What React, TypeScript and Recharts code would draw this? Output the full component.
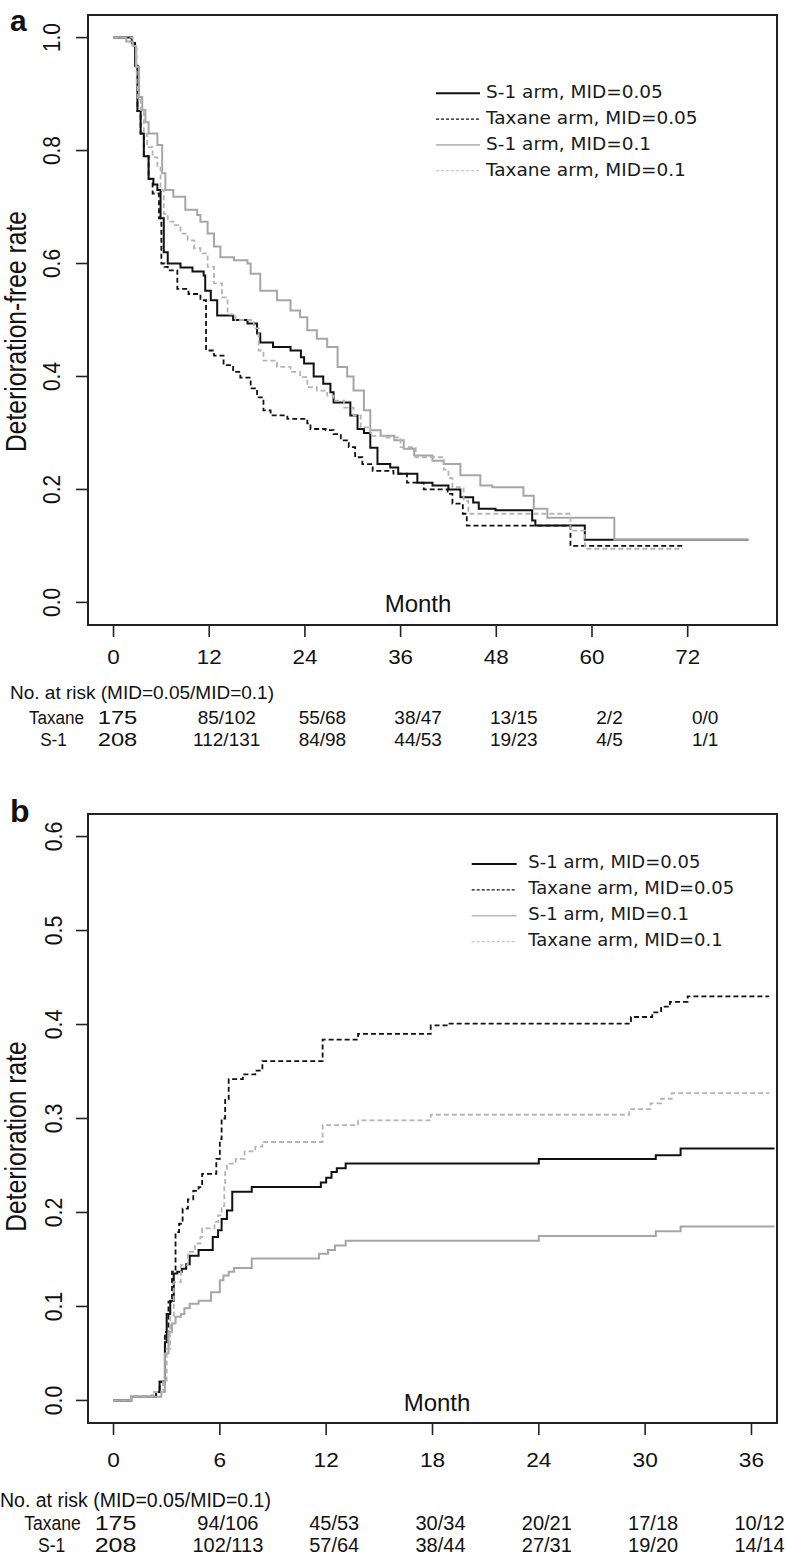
import React from 'react';
import { LineChart, Line, XAxis, YAxis, ReferenceArea, Legend, Customized } from 'recharts';

// ---------- shared ----------
const SANS = '"Liberation Sans", Arial, Helvetica, sans-serif';
const LEGEND_FONT = '"DejaVu Sans", Verdana, sans-serif';
const seriesNames = ['S-1 arm, MID=0.05', 'Taxane arm, MID=0.05', 'S-1 arm, MID=0.1', 'Taxane arm, MID=0.1'];
const riskHeader = 'No. at risk (MID=0.05/MID=0.1)';
const riskRowNames = ['Taxane', 'S-1'];

// ---------- panel a : deterioration-free rate ----------
const aTicksX = [0, 12, 24, 36, 48, 60, 72];
const aTicksY = [0, 0.2, 0.4, 0.6, 0.8, 1.0];
const aRiskTaxane = ['175', '85/102', '55/68', '38/47', '13/15', '2/2', '0/0'];
const aRiskS1 = ['208', '112/131', '84/98', '44/53', '19/23', '4/5', '1/1'];

const aS1_005 = [
  [0, 1.0], [2.3, 0.99], [2.7, 0.95], [3.0, 0.87], [3.4, 0.83], [3.8, 0.79], [4.4, 0.75], [5.0, 0.74],
  [5.5, 0.73], [5.9, 0.68], [6.3, 0.62], [6.8, 0.6], [8.4, 0.593], [9.9, 0.586], [11.3, 0.579], [11.5, 0.552],
  [12.2, 0.535], [13.0, 0.508], [15.0, 0.5], [16.8, 0.494], [18.0, 0.476], [18.4, 0.46], [20.0, 0.452],
  [22.2, 0.446], [23.5, 0.434], [23.9, 0.423], [25.1, 0.4], [26.3, 0.387], [27.2, 0.372], [27.6, 0.354],
  [29.7, 0.331], [30.6, 0.307], [31.4, 0.3], [32.2, 0.274], [33.1, 0.245], [34.7, 0.239], [35.7, 0.228],
  [38.1, 0.212], [40.0, 0.207], [42.0, 0.2], [43.5, 0.186], [45.1, 0.177], [45.8, 0.166], [47.9, 0.163],
  [52.5, 0.145], [52.9, 0.136], [59.1, 0.111], [79.6, 0.111],
];
const aTax_005 = [
  [0, 1.0], [2.3, 0.99], [2.7, 0.95], [3.0, 0.87], [3.4, 0.83], [3.8, 0.79], [4.4, 0.75], [4.9, 0.724],
  [5.7, 0.68], [6.0, 0.6], [6.4, 0.594], [6.8, 0.588], [8.0, 0.555], [9.4, 0.546], [10.9, 0.535], [11.6, 0.446],
  [12.6, 0.437], [13.8, 0.42], [15.0, 0.408], [15.9, 0.398], [17.2, 0.379], [18.0, 0.363], [18.8, 0.34],
  [19.7, 0.331], [21.8, 0.325], [24.3, 0.317], [24.7, 0.307], [26.6, 0.305], [27.6, 0.298], [28.5, 0.287],
  [29.5, 0.275], [30.3, 0.257], [31.2, 0.245], [32.5, 0.233], [35.1, 0.228], [36.8, 0.212], [38.9, 0.2],
  [41.9, 0.192], [42.5, 0.175], [43.8, 0.157], [44.3, 0.136], [57.3, 0.1], [71.5, 0.1],
];
const aS1_01 = [
  [0, 1.0], [1.6, 0.993], [2.4, 0.985], [2.8, 0.948], [3.2, 0.895], [3.6, 0.872], [4.0, 0.85], [4.4, 0.83],
  [5.5, 0.81], [6.1, 0.76], [6.5, 0.73], [7.5, 0.718], [9.0, 0.695], [10.5, 0.686], [10.9, 0.674], [11.8, 0.653],
  [12.6, 0.63], [13.4, 0.611], [15.1, 0.606], [16.8, 0.6], [17.2, 0.582], [18.4, 0.552], [20.5, 0.535],
  [22.2, 0.517], [23.4, 0.505], [24.3, 0.482], [25.5, 0.467], [26.8, 0.452], [28.1, 0.417], [29.3, 0.4],
  [30.1, 0.375], [31.4, 0.34], [32.2, 0.305], [33.5, 0.295], [35.2, 0.287], [36.4, 0.272], [37.7, 0.26],
  [40.0, 0.251], [41.4, 0.245], [43.5, 0.225], [46.0, 0.207], [47.5, 0.204], [51.4, 0.189], [52.7, 0.166],
  [54.4, 0.15], [62.8, 0.111], [79.6, 0.111],
];
const aTax_01 = [
  [0, 1.0], [2.4, 0.985], [2.9, 0.92], [3.0, 0.89], [3.4, 0.872], [3.8, 0.83], [4.2, 0.806], [4.9, 0.788],
  [5.5, 0.77], [5.9, 0.73], [6.3, 0.688], [6.8, 0.674], [7.5, 0.668], [8.4, 0.653], [9.3, 0.641], [10.1, 0.627],
  [10.9, 0.618], [11.8, 0.594], [12.6, 0.565], [13.6, 0.54], [14.3, 0.51], [15.3, 0.5], [17.6, 0.485],
  [18.2, 0.446], [18.8, 0.428], [20.5, 0.417], [22.2, 0.408], [23.4, 0.399], [24.3, 0.381], [25.5, 0.375],
  [26.8, 0.366], [27.6, 0.357], [28.9, 0.345], [30.1, 0.331], [31.0, 0.31], [32.2, 0.295], [33.9, 0.292],
  [36.0, 0.275], [37.9, 0.257], [41.4, 0.235], [42.0, 0.22], [42.5, 0.204], [43.9, 0.18], [44.5, 0.157],
  [57.3, 0.127], [59.1, 0.095], [71.4, 0.095],
];

// ---------- panel b : deterioration rate ----------
const bTicksX = [0, 6, 12, 18, 24, 30, 36];
const bTicksY = [0, 0.1, 0.2, 0.3, 0.4, 0.5, 0.6];
const bRiskTaxane = ['175', '94/106', '45/53', '30/34', '20/21', '17/18', '10/12'];
const bRiskS1 = ['208', '102/113', '57/64', '38/44', '27/31', '19/20', '14/14'];

const bS1_005 = [
  [0, 0], [1.0, 0.004], [2.4, 0.009], [2.6, 0.02], [2.9, 0.062], [3.0, 0.092], [3.2, 0.106], [3.4, 0.135],
  [3.6, 0.137], [3.85, 0.14], [4.1, 0.145], [4.3, 0.154], [4.8, 0.16], [5.6, 0.174], [5.9, 0.181], [6.1, 0.193],
  [6.4, 0.202], [6.7, 0.222], [7.8, 0.227], [11.7, 0.232], [12.0, 0.237], [12.3, 0.243], [12.6, 0.247],
  [13.1, 0.252], [24.0, 0.257], [30.6, 0.261], [32.0, 0.268], [37.3, 0.268],
];
const bTax_005 = [
  [0, 0], [1.0, 0.004], [2.2, 0.009], [2.6, 0.02], [2.9, 0.073], [3.1, 0.105], [3.3, 0.137], [3.5, 0.179],
  [3.7, 0.188], [3.9, 0.204], [4.2, 0.214], [4.5, 0.223], [4.8, 0.227], [5.0, 0.241], [5.8, 0.257], [6.0, 0.278],
  [6.1, 0.3], [6.3, 0.321], [6.5, 0.342], [7.3, 0.347], [8.0, 0.351], [8.4, 0.361], [11.8, 0.384], [13.8, 0.39],
  [17.9, 0.399], [18.8, 0.401], [29.2, 0.408], [30.4, 0.413], [30.9, 0.419], [31.4, 0.424], [32.4, 0.43],
  [37.0, 0.43],
];
const bS1_01 = [
  [0, 0], [1.0, 0.004], [2.7, 0.009], [2.9, 0.05], [3.1, 0.073], [3.3, 0.082], [3.5, 0.089], [3.8, 0.092],
  [4.0, 0.098], [4.3, 0.103], [4.8, 0.106], [5.5, 0.115], [6.0, 0.128], [6.2, 0.133], [6.5, 0.137], [6.8, 0.141],
  [7.8, 0.151], [11.6, 0.156], [12.1, 0.16], [12.5, 0.165], [13.1, 0.17], [24.0, 0.175], [30.6, 0.18],
  [32.0, 0.185], [37.3, 0.185],
];
const bTax_01 = [
  [0, 0], [1.0, 0.004], [2.2, 0.009], [2.8, 0.02], [3.0, 0.055], [3.2, 0.09], [3.4, 0.126], [3.8, 0.144],
  [4.2, 0.158], [4.6, 0.167], [4.9, 0.174], [5.0, 0.183], [5.7, 0.19], [5.9, 0.197], [6.1, 0.207], [6.25, 0.229],
  [6.3, 0.243], [6.4, 0.252], [6.9, 0.257], [7.4, 0.265], [8.0, 0.27], [8.4, 0.275], [11.8, 0.293], [13.8, 0.298],
  [17.9, 0.304], [29.1, 0.31], [30.3, 0.316], [30.9, 0.321], [31.5, 0.327], [37.0, 0.327],
];

// ---------- helpers ----------
type Pt = { t: number; v: number };
const toPts = (arr: number[][]): Pt[] => arr.map(([t, v]) => ({ t, v }));

const lineStyles = [
  { stroke: '#111111', strokeWidth: 2, dash: undefined as string | undefined },
  { stroke: '#111111', strokeWidth: 1.8, dash: '5 3' },
  { stroke: '#a6a6a6', strokeWidth: 2, dash: undefined as string | undefined },
  { stroke: '#b4b4b4', strokeWidth: 1.8, dash: '5 3' },
];
const legendStyles = [
  { stroke: '#111111', strokeWidth: 2, dash: undefined as string | undefined },
  { stroke: '#111111', strokeWidth: 1.3, dash: '3 2' },
  { stroke: '#b8b8b8', strokeWidth: 1.6, dash: undefined as string | undefined },
  { stroke: '#c8c8c8', strokeWidth: 1.3, dash: '3 2' },
];

type XTickCfg = {
  ticks: number[]; taxane: string[]; s1: string[];
  labelY: number; labelFs: number; labelSx: number;
  row1Y: number; row2Y: number; riskFs: number; dx: number; firstDx: number; firstSx: number;
};
const makeXTick = (c: XTickCfg) => (props: any) => {
  const { x, payload } = props;
  const i = c.ticks.indexOf(payload.value);
  const dx = i === 0 ? c.firstDx : c.dx;
  const sx = i === 0 ? c.firstSx : 1;
  return (
    <g>
      <text transform={`translate(${x},${c.labelY}) scale(${c.labelSx},1)`} textAnchor="middle"
        fontSize={c.labelFs} fontFamily={SANS} fill="#111">{payload.value}</text>
      <text transform={`translate(${x + dx},${c.row1Y}) scale(${sx},1)`} textAnchor="middle"
        fontSize={c.riskFs} fontFamily={SANS} fill="#111">{c.taxane[i]}</text>
      <text transform={`translate(${x + dx},${c.row2Y}) scale(${sx},1)`} textAnchor="middle"
        fontSize={c.riskFs} fontFamily={SANS} fill="#111">{c.s1[i]}</text>
    </g>
  );
};

const makeYTick = (bx: number, fs: number) => (props: any) => {
  const { y, payload } = props;
  return (
    <text transform={`translate(${bx},${y}) rotate(-90) scale(0.87,1)`} textAnchor="middle"
      fontSize={fs} fontFamily={SANS} fill="#111">{Number(payload.value).toFixed(1)}</text>
  );
};

type LegendCfg = { x1: number; x2: number; lineY: number; tx: number; textY: number; dy: number; fs: number };
const makeLegend = (c: LegendCfg) => () => (
  <svg width={360} height={120} style={{ overflow: 'visible' }}>
    {seriesNames.map((n, i) => {
      const s = legendStyles[i];
      return (
        <g key={n}>
          <line x1={c.x1} x2={c.x2} y1={c.lineY + i * c.dy} y2={c.lineY + i * c.dy} stroke={s.stroke}
            strokeWidth={s.strokeWidth} strokeDasharray={s.dash} />
          <text x={c.tx} y={c.textY + i * c.dy} fontSize={c.fs} fontFamily={LEGEND_FONT} fill="#1a1a1a">{n}</text>
        </g>
      );
    })}
  </svg>
);

type StaticCfg = {
  letter: string; letterY: number; letterFs: number;
  ylab: string; ylabY: number;
  monthX: number; monthY: number;
  headerX: number; headerY: number; headerFs: number;
  rowX: number[]; rowY: number[]; rowFs: number;
};
const makeStatic = (c: StaticCfg) => () => (
  <g fontFamily={SANS} fill="#111">
    <text x={10} y={c.letterY} fontSize={c.letterFs} fontWeight="bold">{c.letter}</text>
    <text transform={`translate(26,${c.ylabY}) rotate(-90) scale(0.85,1)`} textAnchor="middle" fontSize={29}>{c.ylab}</text>
    <text x={c.monthX} y={c.monthY} textAnchor="middle" fontSize={24}>Month</text>
    <text x={c.headerX} y={c.headerY} fontSize={c.headerFs}>{riskHeader}</text>
    {riskRowNames.map((r, i) => (
      <text key={r} transform={`translate(${c.rowX[i]},${c.rowY[i]}) scale(0.9,1)`} textAnchor="middle" fontSize={c.rowFs}>{r}</text>
    ))}
  </g>
);

const renderLines = (sets: number[][][]) =>
  sets.map((d, i) => (
    <Line key={seriesNames[i]} data={toPts(d)} dataKey="v" name={seriesNames[i]} type="stepAfter"
      stroke={lineStyles[i].stroke} strokeWidth={lineStyles[i].strokeWidth} strokeDasharray={lineStyles[i].dash}
      dot={false} activeDot={false} isAnimationActive={false} />
  ));

const aXDom: [number, number] = [-3.2, 83.2];
const aYDom: [number, number] = [-0.04, 1.04];
const bXDom: [number, number] = [-1.44, 37.44];
const bYDom: [number, number] = [-0.024, 0.624];

const tickLineStyle = { stroke: '#222', strokeWidth: 1.6 };

export default function App() {
  return (
    <div style={{ position: 'absolute', left: 0, top: 0, width: 786, height: 1555, background: '#fff' }}>
      {/* Panel a */}
      <div style={{ position: 'absolute', left: 0, top: 0 }}>
        <LineChart width={786} height={760} margin={{ top: 15, right: 9, bottom: 0, left: 0 }}>
          <XAxis type="number" dataKey="t" domain={aXDom} allowDataOverflow ticks={aTicksX} interval={0}
            tickSize={12} height={135} axisLine={false} tickLine={tickLineStyle}
            tick={makeXTick({
              ticks: aTicksX, taxane: aRiskTaxane, s1: aRiskS1, labelY: 664, labelFs: 20, labelSx: 1.12,
              row1Y: 724.3, row2Y: 745.7, riskFs: 19, dx: 17.5, firstDx: 4, firstSx: 1.25,
            })} />
          <YAxis type="number" domain={aYDom} allowDataOverflow ticks={aTicksY} interval={0} tickSize={12}
            width={88} axisLine={false} tickLine={tickLineStyle} tick={makeYTick(60, 24)} />
          <ReferenceArea x1={aXDom[0]} x2={aXDom[1]} y1={aYDom[0]} y2={aYDom[1]} fill="none" fillOpacity={0}
            stroke="#222" strokeWidth={2} ifOverflow="visible" />
          {renderLines([aS1_005, aTax_005, aS1_01, aTax_01])}
          <Legend layout="vertical" align="center" verticalAlign="middle"
            wrapperStyle={{ left: 430, top: 75, width: 360, height: 120 }}
            content={makeLegend({ x1: 6, x2: 50, lineY: 18.3, tx: 56, textY: 23.3, dy: 25.8, fs: 18.5 })} />
          <Customized component={makeStatic({
            letter: 'a', letterY: 30.5, letterFs: 30, ylab: 'Deterioration-free rate', ylabY: 331.5,
            monthX: 418, monthY: 611.7, headerX: 10, headerY: 699, headerFs: 19,
            rowX: [56.5, 53.5], rowY: [724.3, 745.7], rowFs: 19,
          })} />
        </LineChart>
      </div>
      {/* Panel b */}
      <div style={{ position: 'absolute', left: 0, top: 760 }}>
        <LineChart width={786} height={795} margin={{ top: 54, right: 9, bottom: 0, left: 0 }}>
          <XAxis type="number" dataKey="t" domain={bXDom} allowDataOverflow ticks={bTicksX} interval={0}
            tickSize={12} height={132} axisLine={false} tickLine={tickLineStyle}
            tick={makeXTick({
              ticks: bTicksX, taxane: bRiskTaxane, s1: bRiskS1, labelY: 706.7, labelFs: 21, labelSx: 1.08,
              row1Y: 770, row2Y: 791.7, riskFs: 20, dx: 8, firstDx: 2, firstSx: 1.25,
            })} />
          <YAxis type="number" domain={bYDom} allowDataOverflow ticks={bTicksY} interval={0} tickSize={12}
            width={88} axisLine={false} tickLine={tickLineStyle} tick={makeYTick(61.5, 24.5)} />
          <ReferenceArea x1={bXDom[0]} x2={bXDom[1]} y1={bYDom[0]} y2={bYDom[1]} fill="none" fillOpacity={0}
            stroke="#222" strokeWidth={2} ifOverflow="visible" />
          {renderLines([bS1_005, bTax_005, bS1_01, bTax_01])}
          <Legend layout="vertical" align="center" verticalAlign="middle"
            wrapperStyle={{ left: 465, top: 80, width: 360, height: 120 }}
            content={makeLegend({ x1: 6.7, x2: 51.7, lineY: 24, tx: 63.3, textY: 28.3, dy: 25.9, fs: 18 })} />
          <Customized component={makeStatic({
            letter: 'b', letterY: 62.3, letterFs: 32, ylab: 'Deterioration rate', ylabY: 376.5,
            monthX: 437, monthY: 650.7, headerX: 0, headerY: 747.3, headerFs: 19.5,
            rowX: [52.5, 51.7], rowY: [770, 791.7], rowFs: 19.5,
          })} />
        </LineChart>
      </div>
    </div>
  );
}
